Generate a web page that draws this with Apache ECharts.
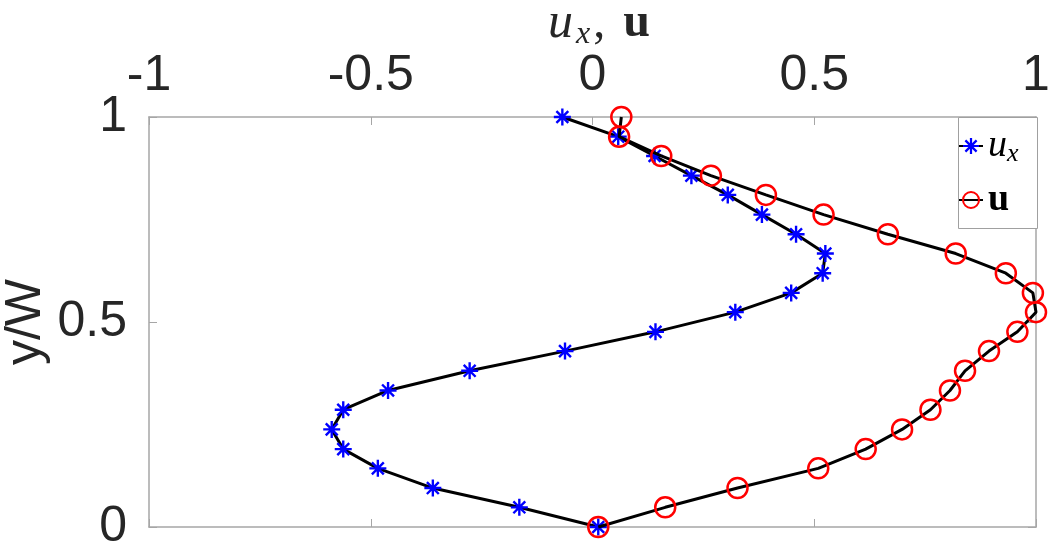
<!DOCTYPE html>
<html>
<head>
<meta charset="utf-8">
<script src="https://cdn.jsdelivr.net/npm/echarts@6/dist/echarts.min.js"></script>
<style>
  html, body { margin: 0; padding: 0; background: #fff; }
  #chart { width: 1048px; height: 546px; }
</style>
</head>
<body>
<div id="chart"></div>
<script>
// y/W positions (top to bottom)
const yPos = [1, 0.952, 0.905, 0.857, 0.81, 0.762, 0.714, 0.667, 0.619, 0.571, 0.524,
  0.476, 0.429, 0.381, 0.333, 0.286, 0.238, 0.19, 0.143, 0.095, 0.048, 0]

// u_x values
const uxVals = [-0.068, 0.058, 0.140, 0.223, 0.305, 0.382, 0.459, 0.525, 0.519, 0.448, 0.322,
  0.142, -0.062, -0.277, -0.461, -0.562, -0.588, -0.562, -0.484, -0.360, -0.165, 0.013]

// |u| values
const uVals = [0.065, 0.060, 0.155, 0.267, 0.391, 0.521, 0.666, 0.819, 0.932, 0.993, 1.000,
  0.958, 0.894, 0.840, 0.806, 0.762, 0.698, 0.616, 0.509, 0.327, 0.164, 0.013]

const xTicks = [-1, -0.5, 0, 0.5, 1]
const yTicks = [0, 0.5, 1]

// asterisk marker
const starPath = 'path://M8.6 0H11.4V20H8.6Z M0 8.6H20V11.4H0Z ' +
  'M2.0 4.0L4.0 2.0L18.0 16.0L16.0 18.0Z ' +
  'M16.0 2.0L18.0 4.0L4.0 18.0L2.0 16.0Z'

const axisGrey = '#a6a6a6'
const labelColor = '#262626'
const labelFont = 'Liberation Sans'
const mathFont = 'Liberation Serif'

const chart = echarts.init(document.getElementById('chart'))

const fmt = v => {
  const t = xTicks.concat(yTicks).find(k => Math.abs(k - v) < 1e-9)
  return t === undefined ? '' : String(t)
}

const boxAxis = {
  axisLine: { show: true, onZero: false, lineStyle: { color: axisGrey, width: 1.5 } },
  axisTick: { show: true, inside: true, length: 8, lineStyle: { color: axisGrey } },
  splitLine: { show: false }
}

chart.setOption({
  animation: false,
  title: {
    text: '{i|u}{s|x}{n|,}{b|u}',
    left: 594,
    textAlign: 'center',
    top: -8,
    textStyle: {
      fontWeight: 'normal',
      rich: {
        i: { fontFamily: mathFont, fontStyle: 'italic', fontWeight: 'normal', fontSize: 50, color: labelColor },
        s: { fontFamily: mathFont, fontStyle: 'italic', fontWeight: 'normal', fontSize: 32, color: labelColor, padding: [22, 3, 0, 3] },
        n: { fontFamily: mathFont, fontWeight: 'normal', fontSize: 48, color: labelColor, padding: [0, 18, 0, 0] },
        b: { fontFamily: mathFont, fontWeight: 'bold', fontSize: 48, color: labelColor }
      }
    }
  },
  // legend frame
  graphic: [{
    type: 'rect',
    left: 958,
    top: 117,
    shape: { width: 79, height: 111 },
    style: { fill: '#fff', stroke: '#a0a0a0', lineWidth: 1 },
    z: 1
  }],
  legend: {
    orient: 'vertical',
    left: 958,
    top: 117,
    padding: [10, 0, 6, 0],
    itemGap: 14,
    itemWidth: 24,
    itemHeight: 20,
    z: 6,
    data: ['ux', 'u'],
    formatter: name => name === 'ux' ? '{i|u}{s|x}' : '{b|u}',
    textStyle: {
      rich: {
        i: { fontFamily: mathFont, fontStyle: 'italic', fontSize: 38, color: '#000' },
        s: { fontFamily: mathFont, fontStyle: 'italic', fontSize: 26, color: '#000', padding: [16, 0, 0, 0] },
        b: { fontFamily: mathFont, fontWeight: 'bold', fontSize: 38, color: '#000' }
      }
    }
  },
  grid: { left: 149, right: 12, top: 117, bottom: 19, containLabel: false, outerBoundsMode: 'none' },
  xAxis: [
    Object.assign({
      type: 'value', position: 'top', min: -1, max: 1, interval: 0.5,
      axisLabel: { fontSize: 50, fontFamily: labelFont, color: labelColor, margin: 16, formatter: fmt }
    }, boxAxis),
    Object.assign({
      type: 'value', position: 'bottom', min: -1, max: 1, interval: 0.5,
      axisLabel: { show: false }
    }, boxAxis)
  ],
  yAxis: [
    Object.assign({
      type: 'value', position: 'left', min: 0, max: 1, interval: 0.5,
      name: 'y/W', nameLocation: 'middle', nameRotate: 90, nameGap: 98, nameMoveOverlap: false,
      nameTextStyle: { fontSize: 50, fontFamily: labelFont, color: labelColor },
      axisLabel: { fontSize: 50, fontFamily: labelFont, color: labelColor, margin: 22, formatter: fmt }
    }, boxAxis),
    Object.assign({
      type: 'value', position: 'right', min: 0, max: 1, interval: 0.5,
      axisLabel: { show: false }
    }, boxAxis)
  ],
  series: [
    {
      name: 'ux',
      type: 'line',
      clip: false,
      data: uxVals.map((v, i) => [v, yPos[i]]),
      lineStyle: { color: '#000', width: 3 },
      symbol: starPath,
      symbolSize: 17,
      itemStyle: { color: '#0000ff' },
      z: 3
    },
    {
      name: 'u',
      type: 'line',
      clip: false,
      data: uVals.map((v, i) => [v, yPos[i]]),
      lineStyle: { color: '#000', width: 3 },
      symbol: 'circle',
      symbolSize: 20,
      itemStyle: { color: 'rgba(0,0,0,0)', borderColor: '#ff0000', borderWidth: 2.5 },
      z: 4
    }
  ]
})
</script>
</body>
</html>
